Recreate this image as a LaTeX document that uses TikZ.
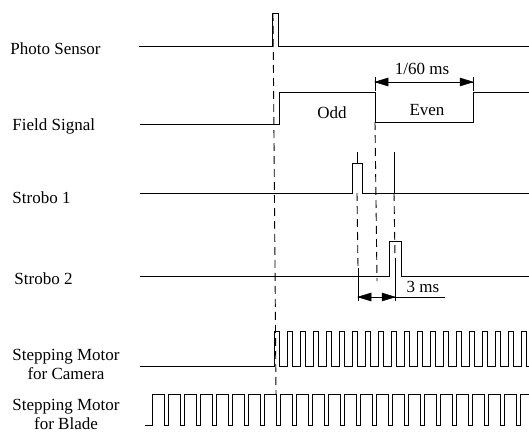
\documentclass[tikz,border=0pt]{standalone}
\usepackage{fontspec}
\setmainfont{Liberation Serif}
\begin{document}
\begin{tikzpicture}[x=1pt,y=-1pt,line width=0.9pt,
  lbl/.style={font=\fontsize{17}{19}\selectfont, inner sep=0pt},
  dsh/.style={dash pattern=on 8pt off 5pt, line width=0.9pt},
  tip/.style={fill=black, draw=black, line width=0.5pt}]
\useasboundingbox (0,0) rectangle (529,439);

% labels
\node[lbl, anchor=base west] (lphoto) at (10,54) {Photo Sensor};
\node[lbl, anchor=base west] (lfield) at (12,130) {Field Signal};
\node[lbl, anchor=base west] (ls1) at (12,203) {Strobo 1};
\node[lbl, anchor=base west] (ls2) at (14,284) {Strobo 2};
\node[lbl, align=center] (lcam) at (66,364) {Stepping Motor\\for Camera};
\node[lbl, align=center] (lblade) at (66,414) {Stepping Motor\\for Blade};

% photo sensor
\draw (139,46) -- (272,46) -- (272,13) -- (278,13) -- (278,46) -- (529,46);
% field signal
\draw (140,124) -- (279,124) -- (279,92) -- (375,92) -- (375,122) -- (473,122) -- (473,92) -- (529,92);
\node[lbl] (odd) at (332,113) {Odd};
\node[lbl] (even) at (427,110) {Even};
% strobo 1
\draw (140,193) -- (352,193) -- (352,163) -- (362,163) -- (362,193) -- (529,193);
\draw (357,152) -- (357,163);
\draw (394,152) -- (394,193);
% strobo 2
\draw (140,276) -- (389,276) -- (389,241) -- (401,241) -- (401,276) -- (529,276);

% camera motor
\draw (140,366) -- (274,366) -- (274,331)
  \foreach \i in {1,...,19} { -- ++(5,0) -- ++(0,35) -- ++(8,0) -- ++(0,-35) }
  -- ++(5,0) -- ++(0,35) -- (529,366);
% blade motor
\draw (145,425) -- (152,425) -- (152,394)
  \foreach \i in {1,...,23} { -- ++(12,0) -- ++(0,31) -- ++(4,0) -- ++(0,-31) }
  -- (529,394);

% dashed timing lines
\coordinate (d1a) at (273,13);
\coordinate (d1b) at (276,394);
\draw[dsh] (d1a) -- (d1b);
\coordinate (d2a) at (375,122);
\coordinate (d2b) at (377,281);
\draw[dsh] (d2a) -- (d2b);
\coordinate (d3a) at (357,193);
\coordinate (d3b) at (358,268);
\draw[dsh] (d3a) -- (d3b);
\coordinate (d3c) at (358,301);
\draw (d3b) -- (d3c);
\coordinate (d4a) at (394,193);
\coordinate (d4b) at (395,258);
\draw[dsh] (d4a) -- (d4b);
\coordinate (d4c) at (395,301);
\draw (d4b) -- (d4c);

% 3 ms dimension
\coordinate (m3l) at (358,297);
\coordinate (m3r) at (395,297);
\coordinate (m3e) at (445,297);
\draw (m3l) -- (m3e);
\path[tip] (m3l) -- ++(13,-4) -- ++(0,8) -- cycle;
\path[tip] (m3r) -- ++(-13,-4) -- ++(0,8) -- cycle;
\node[lbl] (t3) at (423,287) {3 ms};

% 1/60 ms dimension
\coordinate (ta) at (375,77);
\coordinate (tb) at (375,91);
\coordinate (tc) at (473,77);
\coordinate (td) at (473,91);
\draw (ta) -- (tb);
\draw (tc) -- (td);
\coordinate (m60l) at (375,82);
\coordinate (m60r) at (473,82);
\draw (m60l) -- (m60r);
\path[tip] (m60l) -- ++(13,-4) -- ++(0,8) -- cycle;
\path[tip] (m60r) -- ++(-13,-4) -- ++(0,8) -- cycle;
\node[lbl] (t60) at (422,69) {1/60 ms};
\end{tikzpicture}
\end{document}
